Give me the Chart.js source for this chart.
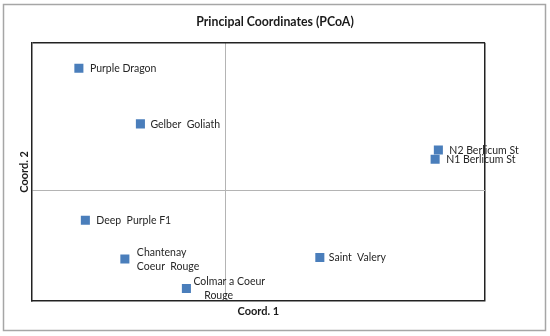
<!DOCTYPE html>
<html>
<head>
<meta charset="utf-8">
<script src="https://cdn.jsdelivr.net/npm/chart.js@4.4.1/dist/chart.umd.min.js"></script>
<style>
  body { margin: 0; background: #fff; }
  #wrap { width: 550px; height: 336px; position: relative; }
</style>
</head>
<body>
<div id="wrap"><canvas id="chart"></canvas></div>
<script>
// PCoA scores
const names = ['Purple Dragon', 'Gelber Goliath', 'N2 Berlicum St', 'N1 Berlicum St',
  'Deep Purple F1', 'Chantenay Coeur Rouge', 'Colmar a Coeur Rouge', 'Saint Valery'];
const coord1 = [-0.227, -0.132, 0.328, 0.323, -0.217, -0.156, -0.061, 0.145];
const coord2 = [0.331, 0.180, 0.109, 0.084, -0.081, -0.186, -0.266, -0.182];
// text as it is printed next to each point (line breaks kept)
const pointLabels = [
  ['Purple Dragon'],
  ['Gelber  Goliath'],
  ['N2 Berlicum St'],
  ['N1 Berlicum St'],
  ['Deep  Purple F1'],
  ['Chantenay', 'Coeur  Rouge'],
  ['Colmar a Coeur', '    Rouge'],
  ['Saint  Valery']
];
const chartTitle = 'Principal Coordinates (PCoA)';
const axisMin = -0.3;
const axisMax = 0.4;

const FONT = 'Lato, "Open Sans", sans-serif';

// outer grey frame + title centred on the whole picture (Excel style)
const frame = {
  id: 'frame',
  beforeDraw(chart) {
    const ctx = chart.ctx;
    ctx.save();
    ctx.strokeStyle = '#a6a6a6';
    ctx.lineWidth = 1.5;
    ctx.strokeRect(3.5, 4.5, 542, 326);
    ctx.fillStyle = '#1a1a1a';
    ctx.font = 'bold 12.3px ' + FONT;
    ctx.textAlign = 'center';
    ctx.textBaseline = 'middle';
    ctx.fillText(chartTitle, chart.width / 2, 22.5);
    ctx.restore();
  }
};

const labelsPlugin = {
  id: 'pointText',
  afterDatasetsDraw(chart, args, opts) {
    const ctx = chart.ctx;
    const meta = chart.getDatasetMeta(0);
    ctx.save();
    ctx.font = opts.font;
    ctx.fillStyle = opts.color;
    ctx.textBaseline = 'middle';
    ctx.textAlign = 'left';
    meta.data.forEach((pt, i) => {
      const lines = pointLabels[i];
      const dx = opts.offsets[i];
      const lh = opts.lineHeight;
      const y0 = pt.y - (lines.length - 1) * lh / 2 + 0.5;
      lines.forEach((t, k) => ctx.fillText(t, pt.x + dx, y0 + k * lh));
    });
    ctx.restore();
  }
};

function edgeGrid(ctx) {
  const v = ctx.tick && ctx.tick.value;
  if (v === 0) return '#b4b4b4';
  if (v === axisMax) return '#222';
  return 'rgba(0,0,0,0)';
}

new Chart(document.getElementById('chart'), {
  type: 'scatter',
  data: {
    datasets: [{
      data: coord1.map((x, i) => ({ x: x, y: coord2[i] })),
      pointStyle: 'rect',
      pointRadius: 6.4,
      pointHoverRadius: 6.4,
      backgroundColor: '#4a7ebb',
      borderColor: '#4a7ebb',
      borderWidth: 0
    }]
  },
  options: {
    responsive: true,
    maintainAspectRatio: false,
    animation: false,
    layout: { padding: { top: 42.7, left: 12.4, right: 65, bottom: 13.8 } },
    plugins: {
      legend: { display: false },
      tooltip: { enabled: false },
      title: { display: false },
      pointText: {
        font: '10.5px ' + FONT,
        color: '#262626',
        lineHeight: 14,
        offsets: [11, 10, 11, 11, 11, 12, 7, 9]
      }
    },
    scales: {
      x: {
        type: 'linear',
        min: axisMin,
        max: axisMax,
        afterBuildTicks: (s) => { s.ticks = [{ value: axisMin }, { value: 0 }, { value: axisMax }]; },
        ticks: { display: false },
        grid: { color: edgeGrid, lineWidth: (c) => (c.tick && c.tick.value === 0 ? 1 : 1.5), drawTicks: false },
        border: { color: '#222', width: 1.5 },
        title: {
          display: true, text: 'Coord. 1', color: '#1a1a1a',
          font: { family: FONT, size: 11, weight: 'bold' },
          padding: { top: 4, bottom: 4 }
        }
      },
      y: {
        type: 'linear',
        min: axisMin,
        max: axisMax,
        afterBuildTicks: (s) => { s.ticks = [{ value: axisMin }, { value: 0 }, { value: axisMax }]; },
        ticks: { display: false },
        grid: { color: edgeGrid, lineWidth: (c) => (c.tick && c.tick.value === 0 ? 1 : 1.5), drawTicks: false },
        border: { color: '#222', width: 1.5 },
        title: {
          display: true, text: 'Coord. 2', color: '#1a1a1a',
          font: { family: FONT, size: 11, weight: 'bold' },
          padding: { top: 5, bottom: 1 }
        }
      }
    }
  },
  plugins: [frame, labelsPlugin]
});
</script>
</body>
</html>
